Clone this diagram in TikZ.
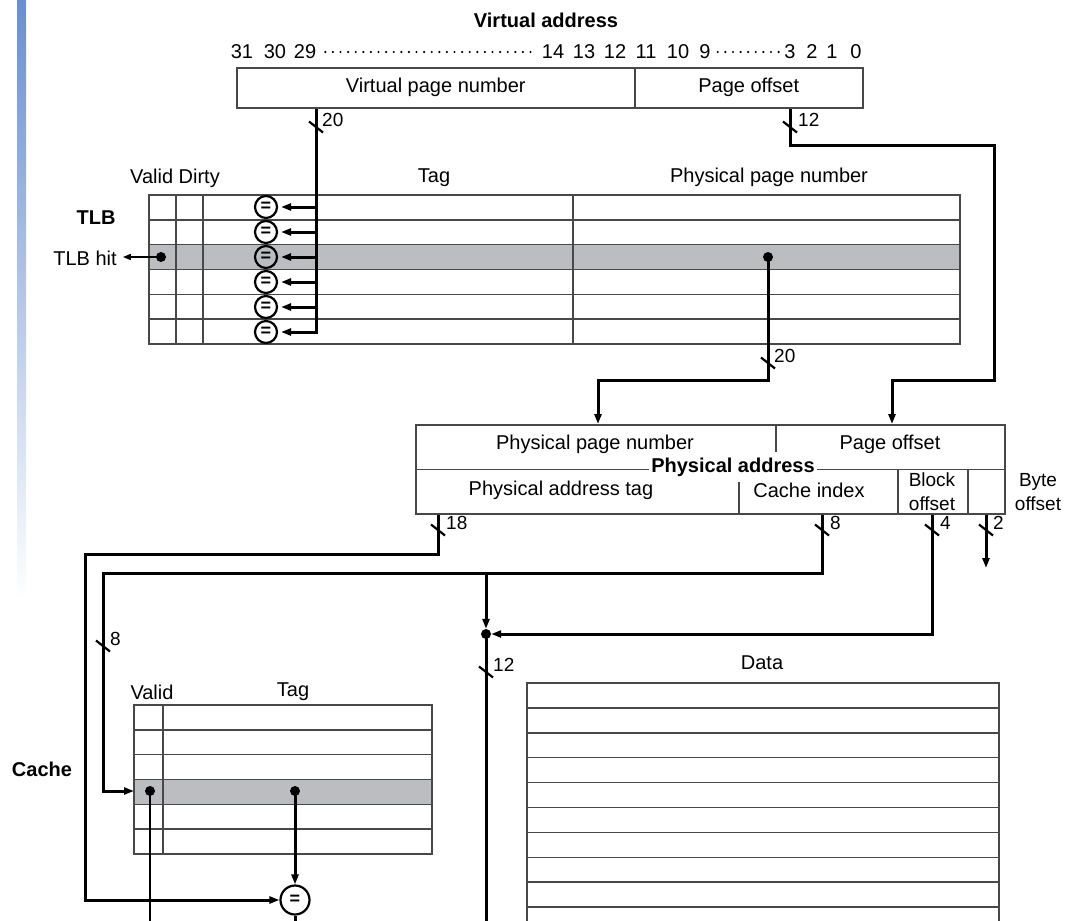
\documentclass[tikz,border=0pt]{standalone}
\usepackage{fontspec}
\setmainfont{Liberation Sans}
\usetikzlibrary{arrows.meta,calc}
\definecolor{hl}{RGB}{188,189,193}
\definecolor{barblue}{RGB}{106,143,207}
\definecolor{tl}{RGB}{72,72,72}
\newcommand{\busw}[4]{%
  \draw[slashln] ($(#1)+(-7,-5.5)$) -- ($(#1)+(7,5.5)$);
  \node[buslbl] (#3) at ($(#1)+(#4,-7)$) {#2};}
\begin{document}
\begin{tikzpicture}[x=1pt,y=-1pt,
  every node/.style={inner sep=0pt, font=\fontsize{20}{24}\selectfont},
  bus/.style={line width=3pt, black},
  slashln/.style={line width=2.2pt, black},
  tline/.style={line width=1.5pt, draw=tl},
  arr/.style={-{Triangle[length=10pt,width=7pt]}},
  dotn/.style={circle, fill=black, minimum size=10pt, inner sep=0pt},
  eqc/.style={circle, draw, line width=2.2pt, minimum size=22pt, inner sep=0pt, font=\bfseries\fontsize{18}{20}\selectfont},
  buslbl/.style={anchor=west, font=\fontsize{19}{22}\selectfont},
  bhd/.style={font=\bfseries\fontsize{20}{24}\selectfont},
  dotline/.style={line width=2.4pt, dash pattern=on 0pt off 7.6pt, line cap=round},
]
\useasboundingbox (0,0) rectangle (1066,921);
\clip (0,0) rectangle (1066,921);
\shade[top color=barblue, bottom color=white] (17,0) rectangle (26,600);

% ---------- virtual address ----------
\node[bhd] (title) at (546,20) {Virtual address};
\foreach \t/\x in {31/242,30/275,29/305,14/553,13/584,12/615,11/646,10/678,9/705,3/790,2/812,1/832,0/856}
  \node (b\t) at (\x,52) {\t};
\draw[dotline] ([xshift=9pt]b29.east) -- ([xshift=-5pt]b14.west);
\draw[dotline] ([xshift=7pt]b9.east) -- ([xshift=-4pt]b3.west);
\node[draw=tl, line width=1.5pt, minimum width=398pt, minimum height=40pt, anchor=north west] (vpn) at (236,67) {Virtual page number};
\node[draw=tl, line width=1.5pt, minimum width=228pt, minimum height=40pt, anchor=north west] (vpo) at (634,67) {Page offset};

% ---------- TLB ----------
\node (hvd) at (175,178) {Valid Dirty};
\node (htag) at (434,178) {Tag};
\node (hppn) at (769,177) {Physical page number};
\node[bhd] (tlb) at (96,218) {TLB};
\node (hit) at (85,258) {TLB hit};
\fill[hl] (149,244.7) rectangle (960,269.5);
\draw[tline] (149,195) rectangle (960,344);
\foreach \k in {1,...,5} \draw[tline] (149,195+\k*24.83) -- (960,195+\k*24.83);
\foreach \x in {176,203,573} \draw[tline] (\x,195) -- (\x,344);
\foreach \i/\y in {1/207,2/232,3/257,4/282,5/307,6/332}
  \node[eqc] (c\i) at (266,\y) {=};
\coordinate (xA) at (316,0);
\draw[bus,arr,shorten >=3pt] (vpn.south -| xA) |- (c6.east);
\foreach \i in {1,...,5} \draw[bus,arr,shorten >=3pt] (c\i.east -| xA) -- (c\i.east);
\coordinate (s1) at (316,127);
\busw{s1}{20}{l1}{6}
\node[dotn] (dhit) at (161,257) {};
\draw[line width=1.6pt, -{Triangle[length=8pt,width=6pt]}, shorten >=6pt] (dhit.center) -- (dhit -| hit.east);

% page offset path
\coordinate (p1) at (790,145);
\coordinate (p2) at (994,145);
\coordinate (p3) at (994,380);
\coordinate (p4) at (892,380);
\coordinate (s2) at (790,127);
% physical address box
\node[draw=tl, line width=1.5pt, minimum width=589pt, minimum height=89pt, anchor=north west] (pa) at (415,424) {};
\draw[bus,arr] (vpo.south -| p1) -- (p1) -- (p2) -- (p3) -- (p4) -- (pa.north -| p4);
\busw{s2}{12}{l2}{8}

% PPN path
\node[dotn] (dppn) at (768,257) {};
\coordinate (q1) at (768,380);
\coordinate (q2) at (598,380);
\draw[bus,arr] (dppn.center) -- (q1) -- (q2) -- (pa.north -| q2);
\coordinate (s3) at (768,363);
\busw{s3}{20}{l3}{6}

% ---------- physical address ----------
\draw[tline] (pa.west) -- (pa.east);
\draw[tline] (776,424) -- (776,452);
\draw[tline] (739,482) -- (739,513);
\draw[tline] (898,469) -- (898,513);
\draw[tline] (968,469) -- (968,513);
\node (pppn) at (595,444) {Physical page number};
\node (ppo) at (890,444) {Page offset};
\node[bhd, fill=white, inner xsep=2pt, inner ysep=1pt] (paddr) at (733,467) {Physical address};
\node (ptag) at (561,490) {Physical address tag};
\node (pidx) at (809,490) {Cache index};
\node[align=center, font=\fontsize{19}{24}\selectfont] (pblk) at (932,492) {Block\\offset};
\node[align=center, font=\fontsize{19}{24}\selectfont] (pbyte) at (1038,492) {Byte\\offset};

% ---------- cache ----------
\node (hval) at (152,692) {Valid};
\node (hctag) at (293,692) {Tag};
\node[bhd] (cache) at (42,769) {Cache};
\fill[hl] (134,779.7) rectangle (432,804.5);
\draw[tline] (134,705) rectangle (432,854);
\foreach \k in {1,...,5} \draw[tline] (134,705+\k*24.83) -- (432,705+\k*24.83);
\draw[tline] (163,705) -- (163,854);
\node[dotn] (dval) at (150,791) {};
\node[dotn] (dtag) at (295,791) {};
\node[eqc, minimum size=29pt] (ceq) at (295,900) {=};
\coordinate (crow) at (134,791);

% data
\node (hdata) at (762,663) {Data};
\draw[tline] (527,683) rectangle (999,960);
\foreach \k in {1,...,10} \draw[tline] (527,683+\k*24.9) -- (999,683+\k*24.9);

% ---------- connectors below PA ----------
\coordinate (r1) at (438,554);
\coordinate (r2) at (85,554);
\coordinate (r3) at (85,900);
\draw[bus,arr] (pa.south -| r1) -- (r1) -- (r2) -- (r3) -- (ceq.west);
\coordinate (s4) at (438,530);
\busw{s4}{18}{l4}{8}

\coordinate (k1) at (822,573);
\coordinate (k2) at (103,573);
\coordinate (k3) at (103,791);
\draw[bus,arr] (pa.south -| k1) -- (k1) -- (k2) -- (k3) -- (crow);
\coordinate (s5) at (822,530);
\busw{s5}{8}{l5}{8}
\coordinate (s6) at (103,646);
\busw{s6}{8}{l6}{7}

\coordinate (j0) at (486,573);
\node[dotn] (dj) at (486,634) {};
\draw[bus,arr] (j0) -- (dj.north);
\coordinate (f1) at (932,634);
\draw[bus,arr] (pa.south -| f1) -- (f1) -- (dj.east);
\coordinate (s7) at (932,530);
\busw{s7}{4}{l7}{8}

\coordinate (e2) at (986,568);
\draw[bus,arr] (pa.south -| e2) -- (e2);
\coordinate (s8) at (986,530);
\busw{s8}{2}{l8}{7}

\coordinate (g1) at (486,935);
\draw[bus] (dj.center) -- (g1);
\coordinate (s9) at (486,672);
\busw{s9}{12}{l9}{7}

\draw[bus,arr] (dtag.center) -- (ceq.north);
\coordinate (h1) at (295,935);
\draw[bus] (ceq.south) -- (h1);
\coordinate (vb) at (150,935);
\draw[line width=2.4pt] (dval.center) -- (vb);
\end{tikzpicture}
\end{document}
